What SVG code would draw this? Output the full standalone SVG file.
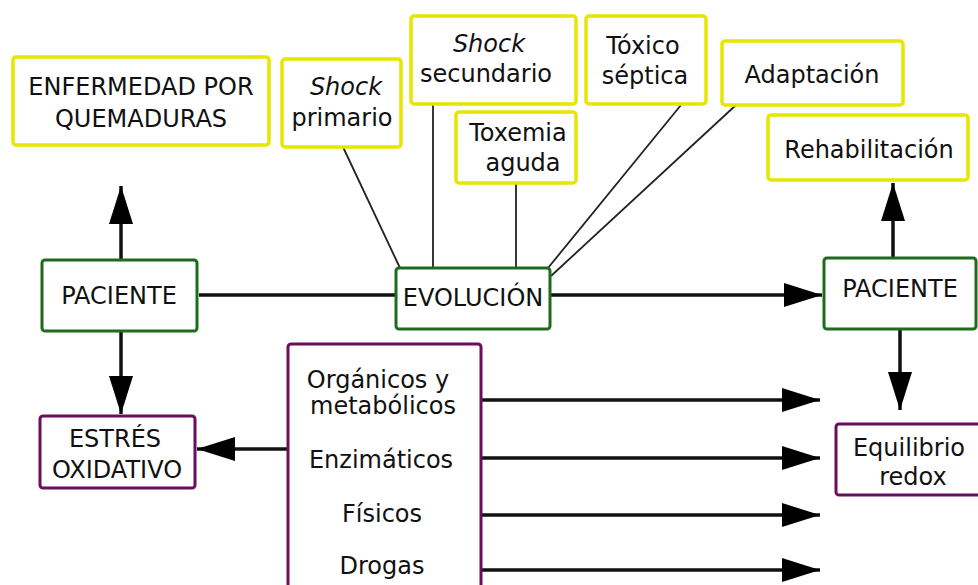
<svg xmlns="http://www.w3.org/2000/svg" width="978" height="585" viewBox="0 0 978 585">
<style>
text{font-family:"DejaVu Sans","Verdana",sans-serif;font-size:24px;fill:#111;text-anchor:middle}
.y{fill:#fff;stroke:#e6e600;stroke-width:3.5}
.g{fill:#fff;stroke:#1e6b1e;stroke-width:3}
.p{fill:#fff;stroke:#6a0e5e;stroke-width:3}
.thick{stroke:#111;stroke-width:3.5;fill:none}
.thin{stroke:#222;stroke-width:1.8;fill:none}
.it{font-style:italic}
</style>
<defs>
<marker id="ah" viewBox="0 0 38 24" refX="38" refY="12" markerWidth="38" markerHeight="24" markerUnits="userSpaceOnUse" orient="auto">
<path d="M0,0 L38,12 L0,24 Z" fill="#000"/>
</marker>
</defs>
<rect width="978" height="585" fill="#fff"/>
<g id="connectors">
<line class="thin" x1="343" y1="147" x2="400" y2="268"/>
<line class="thin" x1="433" y1="105" x2="433" y2="268"/>
<line class="thin" x1="516" y1="183" x2="516" y2="268"/>
<line class="thin" x1="681" y1="105" x2="548" y2="268"/>
<line class="thin" x1="736" y1="105" x2="551" y2="276"/>
<line class="thick" x1="121" y1="259" x2="121" y2="186" marker-end="url(#ah)"/>
<line class="thick" x1="121" y1="332" x2="121" y2="414" marker-end="url(#ah)"/>
<line class="thick" x1="199" y1="295" x2="396" y2="295"/>
<line class="thick" x1="550" y1="295" x2="822" y2="295" marker-end="url(#ah)"/>
<line class="thick" x1="893" y1="258" x2="893" y2="183" marker-end="url(#ah)"/>
<line class="thick" x1="900" y1="330" x2="900" y2="410" marker-end="url(#ah)"/>
<line class="thick" x1="288" y1="449" x2="197" y2="449" marker-end="url(#ah)"/>
<line class="thick" x1="482" y1="400" x2="820" y2="400" marker-end="url(#ah)"/>
<line class="thick" x1="482" y1="458" x2="820" y2="458" marker-end="url(#ah)"/>
<line class="thick" x1="482" y1="515" x2="820" y2="515" marker-end="url(#ah)"/>
<line class="thick" x1="482" y1="570" x2="820" y2="570" marker-end="url(#ah)"/>
</g>
<g id="enfermedad"><rect class="y" x="13" y="57" width="256" height="88" rx="3"/><text x="141" y="95">ENFERMEDAD POR</text><text x="141" y="127">QUEMADURAS</text></g>
<g id="shock-primario"><rect class="y" x="282" y="59" width="119" height="88" rx="3"/><text class="it" x="346" y="95">Shock</text><text x="342" y="126">primario</text></g>
<g id="shock-secundario"><rect class="y" x="411" y="16" width="165" height="88" rx="3"/><text class="it" x="489" y="52">Shock</text><text x="486" y="82">secundario</text></g>
<g id="toxemia"><rect class="y" x="456" y="112" width="120" height="71" rx="3"/><text x="518" y="141">Toxemia</text><text x="523" y="171">aguda</text></g>
<g id="toxico"><rect class="y" x="586" y="16" width="120" height="88" rx="3"/><text x="643" y="54">Tóxico</text><text x="645" y="84">séptica</text></g>
<g id="adaptacion"><rect class="y" x="722" y="41" width="181" height="64" rx="3"/><text x="812" y="83">Adaptación</text></g>
<g id="rehabilitacion"><rect class="y" x="768" y="115" width="200" height="65" rx="3"/><text x="869" y="158">Rehabilitación</text></g>
<g id="paciente-izq"><rect class="g" x="42" y="260" width="155" height="71" rx="3"/><text x="119" y="304">PACIENTE</text></g>
<g id="evolucion"><rect class="g" x="396" y="268" width="154" height="61" rx="3"/><text x="473" y="306">EVOLUCIÓN</text></g>
<g id="paciente-der"><rect class="g" x="824" y="258" width="152" height="71" rx="3"/><text x="900" y="297">PACIENTE</text></g>
<g id="factores"><rect class="p" x="288" y="344" width="193" height="250" rx="3"/><text x="378" y="388">Orgánicos y</text><text x="383" y="414">metabólicos</text><text x="381" y="468">Enzimáticos</text><text x="382" y="522">Físicos</text><text x="382" y="574">Drogas</text></g>
<g id="estres"><rect class="p" x="40" y="416" width="155" height="72" rx="3"/><text x="115" y="447">ESTRÉS</text><text x="117" y="478">OXIDATIVO</text></g>
<g id="equilibrio"><rect class="p" x="836" y="424" width="150" height="71" rx="3"/><text x="909" y="456">Equilibrio</text><text x="913" y="485">redox</text></g>
</svg>
